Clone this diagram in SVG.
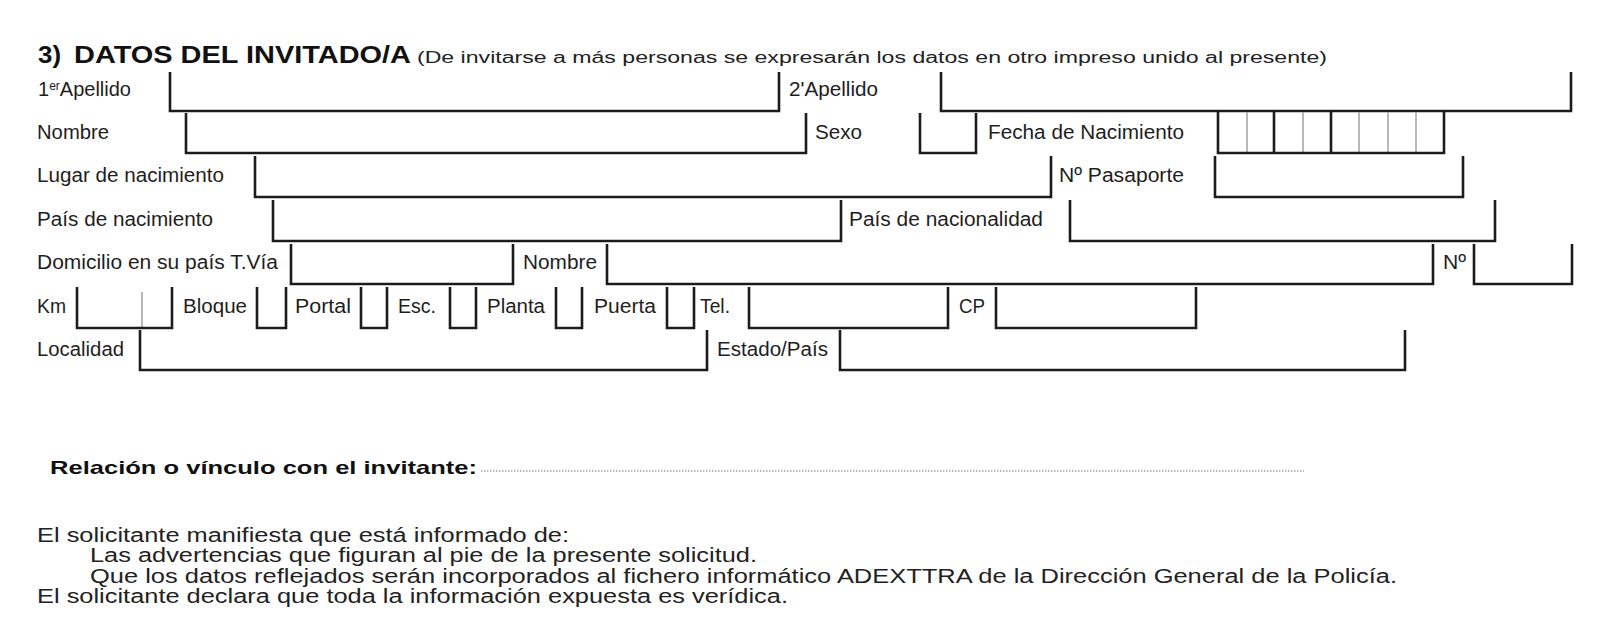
<svg xmlns="http://www.w3.org/2000/svg" width="1611" height="634" viewBox="0 0 1611 634">
<style>
.b{fill:none;stroke:#1c1c1c;stroke-width:2.6;stroke-linejoin:miter}
.th{fill:none;stroke:#9a9a9a;stroke-width:1.4}
.l{font-family:"Liberation Sans",Arial,sans-serif;font-size:20px;fill:#1e1e1e}
.p{font-family:"Liberation Sans",Arial,sans-serif;font-size:20px;fill:#222}
.h{font-family:"Liberation Sans",Arial,sans-serif;font-weight:bold;fill:#111}
.s{font-family:"Liberation Sans",Arial,sans-serif;font-size:16px;fill:#222}
</style>
<rect width="1611" height="634" fill="#fff"/>
<g id="title">
<text class="h" x="38" y="63" font-size="23" textLength="23" lengthAdjust="spacingAndGlyphs">3)</text>
<text class="h" x="74" y="63" font-size="23" textLength="337" lengthAdjust="spacingAndGlyphs">DATOS DEL INVITADO/A</text>
<text class="s" x="417" y="63" textLength="910" lengthAdjust="spacingAndGlyphs">(De invitarse a más personas se expresarán los datos en otro impreso unido al presente)</text>
</g>
<g id="row1">
<g id="apellido1"><text class="l" x="38" y="96" textLength="93" lengthAdjust="spacingAndGlyphs">1<tspan font-size="12" dy="-6">er</tspan><tspan dy="6">Apellido</tspan></text><path class="b" d="M170 72V111H779V72"/></g>
<g id="apellido2"><text class="l" x="789" y="96" textLength="89" lengthAdjust="spacingAndGlyphs">2'Apellido</text><path class="b" d="M941 72V111H1571V72"/></g>
</g>
<g id="row2">
<g id="nombre"><text class="l" x="37" y="139" textLength="72" lengthAdjust="spacingAndGlyphs">Nombre</text><path class="b" d="M186 113V153H806V113"/></g>
<g id="sexo"><text class="l" x="815" y="139" textLength="47" lengthAdjust="spacingAndGlyphs">Sexo</text><path class="b" d="M920 113V153H976V113"/></g>
<g id="fecha"><text class="l" x="988" y="139" textLength="196" lengthAdjust="spacingAndGlyphs">Fecha de Nacimiento</text>
<path class="th" d="M1247 112V153M1303 112V153M1359 112V153M1388 112V153M1416 112V153"/>
<path class="b" d="M1218 111V153H1444V111M1274 111V153M1331 111V153"/></g>
</g>
<g id="row3">
<g id="lugar"><text class="l" x="37" y="182" textLength="187" lengthAdjust="spacingAndGlyphs">Lugar de nacimiento</text><path class="b" d="M255 156V197H1051V156"/></g>
<g id="pasaporte"><text class="l" x="1059" y="182" textLength="125" lengthAdjust="spacingAndGlyphs">Nº Pasaporte</text><path class="b" d="M1215 156V197H1463V156"/></g>
</g>
<g id="row4">
<g id="paisnac"><text class="l" x="37" y="226" textLength="176" lengthAdjust="spacingAndGlyphs">País de nacimiento</text><path class="b" d="M273 200V241H841V200"/></g>
<g id="nacionalidad"><text class="l" x="849" y="226" textLength="194" lengthAdjust="spacingAndGlyphs">País de nacionalidad</text><path class="b" d="M1070 200V241H1495V200"/></g>
</g>
<g id="row5">
<g id="tvia"><text class="l" x="37" y="269" textLength="241" lengthAdjust="spacingAndGlyphs">Domicilio en su país T.Vía</text><path class="b" d="M291 244V284H513V244"/></g>
<g id="nombrevia"><text class="l" x="523" y="269" textLength="74" lengthAdjust="spacingAndGlyphs">Nombre</text><path class="b" d="M607 244V284H1433V244"/></g>
<g id="numero"><text class="l" x="1443" y="269" textLength="23" lengthAdjust="spacingAndGlyphs">Nº</text><path class="b" d="M1474 244V284H1572V244"/></g>
</g>
<g id="row6">
<g id="km"><text class="l" x="37" y="313" textLength="29" lengthAdjust="spacingAndGlyphs">Km</text><path class="th" d="M142 292V328"/><path class="b" d="M77 287V328H172V287"/></g>
<g id="bloque"><text class="l" x="183" y="313" textLength="64" lengthAdjust="spacingAndGlyphs">Bloque</text><path class="b" d="M257 287V328H286V287"/></g>
<g id="portal"><text class="l" x="295" y="313" textLength="56" lengthAdjust="spacingAndGlyphs">Portal</text><path class="b" d="M361 287V328H387V287"/></g>
<g id="esc"><text class="l" x="398" y="313" textLength="38" lengthAdjust="spacingAndGlyphs">Esc.</text><path class="b" d="M450 287V328H476V287"/></g>
<g id="planta"><text class="l" x="487" y="313" textLength="58" lengthAdjust="spacingAndGlyphs">Planta</text><path class="b" d="M556 287V328H582V287"/></g>
<g id="puerta"><text class="l" x="594" y="313" textLength="62" lengthAdjust="spacingAndGlyphs">Puerta</text><path class="b" d="M667 287V328H694V287"/></g>
<g id="tel"><text class="l" x="700" y="313" textLength="30" lengthAdjust="spacingAndGlyphs">Tel.</text><path class="b" d="M749 287V328H948V287"/></g>
<g id="cp"><text class="l" x="959" y="313" textLength="26" lengthAdjust="spacingAndGlyphs">CP</text><path class="b" d="M996 287V328H1196V287"/></g>
</g>
<g id="row7">
<g id="localidad"><text class="l" x="37" y="356" textLength="87" lengthAdjust="spacingAndGlyphs">Localidad</text><path class="b" d="M140 330V370H707V330"/></g>
<g id="estado"><text class="l" x="717" y="356" textLength="111" lengthAdjust="spacingAndGlyphs">Estado/País</text><path class="b" d="M840 330V370H1405V330"/></g>
</g>
<g id="relacion">
<text class="h" x="50" y="474" font-size="19" textLength="427" lengthAdjust="spacingAndGlyphs">Relación o vínculo con el invitante:</text>
<path d="M481 471H1304" stroke="#777" stroke-width="1" stroke-dasharray="1.5 1.5" fill="none"/>
</g>
<g id="declaracion">
<text class="p" x="37" y="542" textLength="532" lengthAdjust="spacingAndGlyphs">El solicitante manifiesta que está informado de:</text>
<text class="p" x="90" y="562" textLength="667" lengthAdjust="spacingAndGlyphs">Las advertencias que figuran al pie de la presente solicitud.</text>
<text class="p" x="90" y="583" textLength="1307" lengthAdjust="spacingAndGlyphs">Que los datos reflejados serán incorporados al fichero informático ADEXTTRA de la Dirección General de la Policía.</text>
<text class="p" x="37" y="603" textLength="751" lengthAdjust="spacingAndGlyphs">El solicitante declara que toda la información expuesta es verídica.</text>
</g>
</svg>
